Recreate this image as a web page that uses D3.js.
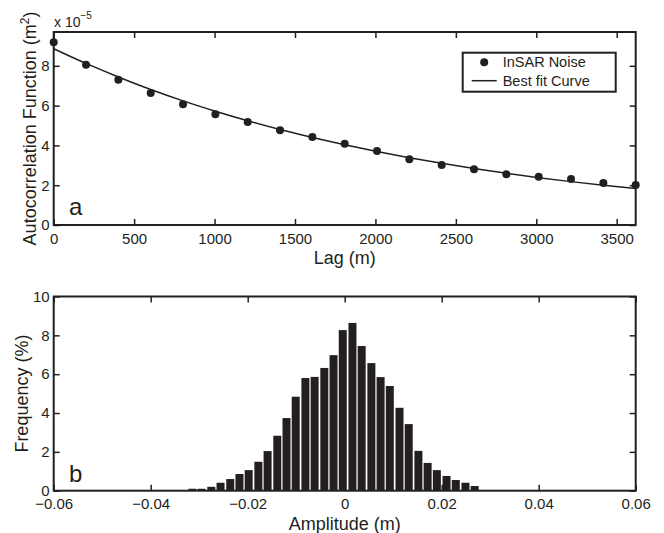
<!DOCTYPE html>
<html>
<head>
<meta charset="utf-8">
<script src="https://d3js.org/d3.v7.min.js"></script>
<style>
 body { margin: 0; background: #fff; }
 text { font-family: "Liberation Sans", Arial, Helvetica, sans-serif; fill: #231f20; }
</style>
</head>
<body>
<svg id="chart" width="664" height="533"></svg>
<script>
 // panel a: autocorrelation of the noise (x 1e-5 m^2)
 var lags = [0, 201, 402, 603, 804, 1005, 1206, 1407, 1608, 1809, 2010,
             2211, 2412, 2613, 2814, 3015, 3216, 3417, 3618];
 var noiseAcf = [9.19, 8.05, 7.30, 6.63, 6.07, 5.57, 5.18, 4.76, 4.42, 4.08, 3.72,
                 3.30, 3.02, 2.80, 2.55, 2.42, 2.31, 2.11, 2.01];
 var fitAcf = [8.86, 8.12, 7.44, 6.81, 6.24, 5.72, 5.24, 4.80, 4.40, 4.03, 3.69,
               3.38, 3.10, 2.84, 2.60, 2.38, 2.18, 2.00, 1.83];
 var lagTicks = [0, 500, 1000, 1500, 2000, 2500, 3000, 3500];
 var acfTicks = [0, 2, 4, 6, 8];

 // panel b: histogram of the noise amplitude
 var binCenters = [-0.0314, -0.0295, -0.0275, -0.0256, -0.0236, -0.0217, -0.0198, -0.0178,
                   -0.0159, -0.0139, -0.0120, -0.0101, -0.0081, -0.0062, -0.0042, -0.0023,
                   -0.0004, 0.0016, 0.0035, 0.0055, 0.0074, 0.0093, 0.0113, 0.0132,
                   0.0152, 0.0171, 0.0190, 0.0210, 0.0229, 0.0249, 0.0268];
 var freq = [0.10, 0.10, 0.20, 0.41, 0.60, 0.86, 1.06, 1.49, 2.04, 2.83, 3.74, 4.84,
             5.80, 5.86, 6.32, 6.98, 8.27, 8.64, 7.45, 6.57, 5.85, 5.39, 4.27, 3.43,
             2.05, 1.43, 1.06, 0.76, 0.55, 0.41, 0.24];
 var binWidth = 0.00194;
 var ampTicks = [-0.06, -0.04, -0.02, 0, 0.02, 0.04, 0.06];
 var ampTickLabels = ["\u22120.06", "\u22120.04", "\u22120.02", "0", "0.02", "0.04", "0.06"];
 var freqTicks = [0, 2, 4, 6, 8, 10];

 var ink = "#231f20";
 var svg = d3.select("#chart");

 function frame(g, x, y, xt, yt, xfmt) {
     var tick = 6;
     g.append("g").attr("transform", "translate(0," + y.range()[0] + ")")
      .call(d3.axisBottom(x).tickValues(xt).tickSize(-tick).tickSizeOuter(0).tickPadding(8).tickFormat(xfmt));
     g.append("g").attr("transform", "translate(0," + y.range()[1] + ")")
      .call(d3.axisTop(x).tickValues(xt).tickSize(-tick).tickSizeOuter(0).tickFormat(""));
     g.append("g").attr("transform", "translate(" + x.range()[0] + ",0)")
      .call(d3.axisLeft(y).tickValues(yt).tickSize(-tick).tickSizeOuter(0).tickPadding(4));
     g.append("g").attr("transform", "translate(" + x.range()[1] + ",0)")
      .call(d3.axisRight(y).tickValues(yt).tickSize(-tick).tickSizeOuter(0).tickFormat(""));
     g.selectAll(".domain").remove();
     g.selectAll(".tick line").attr("stroke", ink).attr("stroke-width", 1.5);
     g.selectAll(".tick text").attr("font-size", "15px").attr("fill", ink)
      .attr("font-family", "Liberation Sans, Arial, sans-serif");
     g.append("rect")
      .attr("x", x.range()[0]).attr("y", y.range()[1])
      .attr("width", x.range()[1] - x.range()[0])
      .attr("height", y.range()[0] - y.range()[1])
      .attr("fill", "none").attr("stroke", ink).attr("stroke-width", 2);
 }

 // ---- panel a ----
 var xa = d3.scaleLinear().domain([0, 3618]).range([53.7, 635.7]);
 var ya = d3.scaleLinear().domain([0, 9.7]).range([225, 32]);
 var ga = svg.append("g");

 var line = d3.line().x(function(d, i) { return xa(lags[i]); })
                     .y(function(d) { return ya(d); })
                     .curve(d3.curveMonotoneX);
 ga.append("path").attr("d", line(fitAcf))
   .attr("fill", "none").attr("stroke", ink).attr("stroke-width", 1.5);
 ga.selectAll("circle.pt").data(noiseAcf).enter().append("circle")
   .attr("class", "pt")
   .attr("cx", function(d, i) { return xa(lags[i]); })
   .attr("cy", function(d) { return ya(d); })
   .attr("r", 4).attr("fill", ink);

 frame(ga, xa, ya, lagTicks, acfTicks, d3.format("d"));

 // legend
 var lg = ga.append("g").attr("transform", "translate(462.7,52.7)");
 lg.append("rect").attr("width", 153).attr("height", 39)
   .attr("fill", "#fff").attr("stroke", ink).attr("stroke-width", 2);
 lg.append("circle").attr("cx", 21.5).attr("cy", 9.5).attr("r", 4).attr("fill", ink);
 lg.append("line").attr("x1", 9).attr("x2", 34).attr("y1", 28).attr("y2", 28)
   .attr("stroke", ink).attr("stroke-width", 1.5);
 lg.append("text").attr("x", 40).attr("y", 14.5).attr("font-size", "14.5px").text("InSAR Noise");
 lg.append("text").attr("x", 40).attr("y", 33).attr("font-size", "14.5px").text("Best fit Curve");

 var ex = ga.append("text").attr("x", 54).attr("y", 27).attr("font-size", "14px");
 ex.append("tspan").text("x 10");
 ex.append("tspan").attr("dy", -8).attr("font-size", "10px").text("\u22125");

 ga.append("text").attr("x", 69).attr("y", 215).attr("font-size", "24px").attr("fill", "#3a3a3a").text("a");
 ga.append("text").attr("x", 344.7).attr("y", 264).attr("text-anchor", "middle")
   .attr("font-size", "18px").text("Lag (m)");
 var yl = ga.append("text").attr("transform", "translate(36,128.5) rotate(-90)")
   .attr("text-anchor", "middle").attr("font-size", "18px");
 yl.append("tspan").text("Autocorrelation Function (m");
 yl.append("tspan").attr("dy", -7).attr("font-size", "12px").text("2");
 yl.append("tspan").attr("dy", 7).text(")");

 // ---- panel b ----
 var xb = d3.scaleLinear().domain([-0.06, 0.06]).range([53.7, 635.7]);
 var yb = d3.scaleLinear().domain([0, 10]).range([490.7, 296.5]);
 var gb = svg.append("g");

 gb.selectAll("rect.bar").data(freq).enter().append("rect")
   .attr("class", "bar")
   .attr("x", function(d, i) { return xb(binCenters[i] - binWidth * 0.425); })
   .attr("width", xb(binWidth * 0.85) - xb(0))
   .attr("y", function(d) { return yb(d); })
   .attr("height", function(d) { return yb(0) - yb(d); })
   .attr("fill", ink);

 frame(gb, xb, yb, ampTicks, freqTicks, function(d, i) { return ampTickLabels[i]; });

 gb.append("text").attr("x", 69).attr("y", 482).attr("font-size", "24px").attr("fill", "#3a3a3a").text("b");
 gb.append("text").attr("x", 344.7).attr("y", 530).attr("text-anchor", "middle")
   .attr("font-size", "18px").text("Amplitude (m)");
 gb.append("text").attr("transform", "translate(28,393.6) rotate(-90)")
   .attr("text-anchor", "middle").attr("font-size", "18px").text("Frequency (%)");
</script>
</body>
</html>
